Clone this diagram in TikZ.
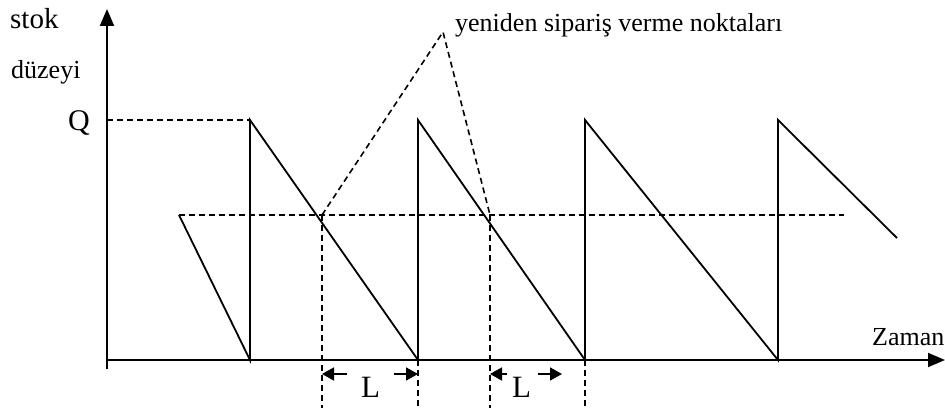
\documentclass[tikz,border=0pt]{standalone}
\usepackage{fontspec}
\setmainfont{Liberation Serif}
\usetikzlibrary{arrows.meta}
\begin{document}
\begin{tikzpicture}[x=1pt,y=-1pt,
  axis/.style={line width=2pt},
  saw/.style={line width=1.8pt,line join=miter},
  dsh/.style={line width=1.6pt,dash pattern=on 6pt off 4pt},
  larr/.style={line width=1.8pt,-{Triangle[length=12pt,width=13pt]}},
  lbl/.style={inner sep=0pt,anchor=base west}]
\useasboundingbox (0,0) rectangle (945,412);
% coordinates
\coordinate (O) at (107,360);
\coordinate (ytop) at (107,9);
\coordinate (ybot) at (107,369);
\coordinate (xend) at (945,360);
\coordinate (q0) at (107,120);
\coordinate (s0) at (179,215);
\coordinate (b1) at (250,360);
\coordinate (t1) at (250,120);
\coordinate (b2) at (418,360);
\coordinate (t2) at (418,120);
\coordinate (b3) at (585,360);
\coordinate (t3) at (585,120);
\coordinate (b4) at (778,360);
\coordinate (t4) at (778,120);
\coordinate (e4) at (897,238);
\coordinate (r1) at (322,215);
\coordinate (r2) at (490,215);
\coordinate (rend) at (844,215);
\coordinate (apex) at (443,32);
\coordinate (r1b) at (322,408);
\coordinate (b2b) at (418,408);
\coordinate (r2b) at (490,408);
\coordinate (b3b) at (585,408);
% axes
\draw[axis] (ybot) -- (O);
\draw[axis,-{Triangle[length=17pt,width=14pt]}] (O) -- (ytop);
\draw[axis,-{Triangle[length=17pt,width=14pt]}] (O) -- (xend);
% sawtooth
\draw[saw] (s0) -- (b1) -- (t1) -- (b2) -- (t2) -- (b3) -- (t3) -- (b4) -- (t4) -- (e4);
% dashed
\draw[dsh] (q0) -- (t1);
\draw[dsh] (s0) -- (rend);
\draw[dsh] (r1) -- (r1b);
\draw[dsh] (r2) -- (r2b);
\draw[dsh] (b2) -- (b2b);
\draw[dsh] (b3) -- (b3b);
\draw[dsh] (r1) -- (apex) -- (r2);
% L arrows
\coordinate (a1) at (347,374); \coordinate (a1t) at (322,374);
\coordinate (a2) at (394,374); \coordinate (a2t) at (418,374);
\coordinate (a3) at (507,374); \coordinate (a3t) at (490,374);
\coordinate (a4) at (538,374); \coordinate (a4t) at (562,374);
\draw[larr] (a1) -- (a1t);
\draw[larr] (a2) -- (a2t);
\draw[larr] (a3) -- (a3t);
\draw[larr] (a4) -- (a4t);
% labels
\node[lbl,font=\fontsize{29}{29}\selectfont] (stok) at (10,29) {stok};
\node[lbl,font=\fontsize{26}{26}\selectfont] (duz) at (11,78) {düzeyi};
\node[lbl,font=\fontsize{30}{30}\selectfont] (Q) at (68,130) {Q};
\node[lbl,font=\fontsize{26}{26}\selectfont] (zaman) at (872,345) {Zaman};
\node[lbl,font=\fontsize{31}{31}\selectfont] (L1) at (361,397) {L};
\node[lbl,font=\fontsize{31}{31}\selectfont] (L2) at (512,397) {L};
\node[lbl,font=\fontsize{26}{26}\selectfont] (yen) at (455,32) {yeniden sipariş verme noktaları};
\end{tikzpicture}
\end{document}
